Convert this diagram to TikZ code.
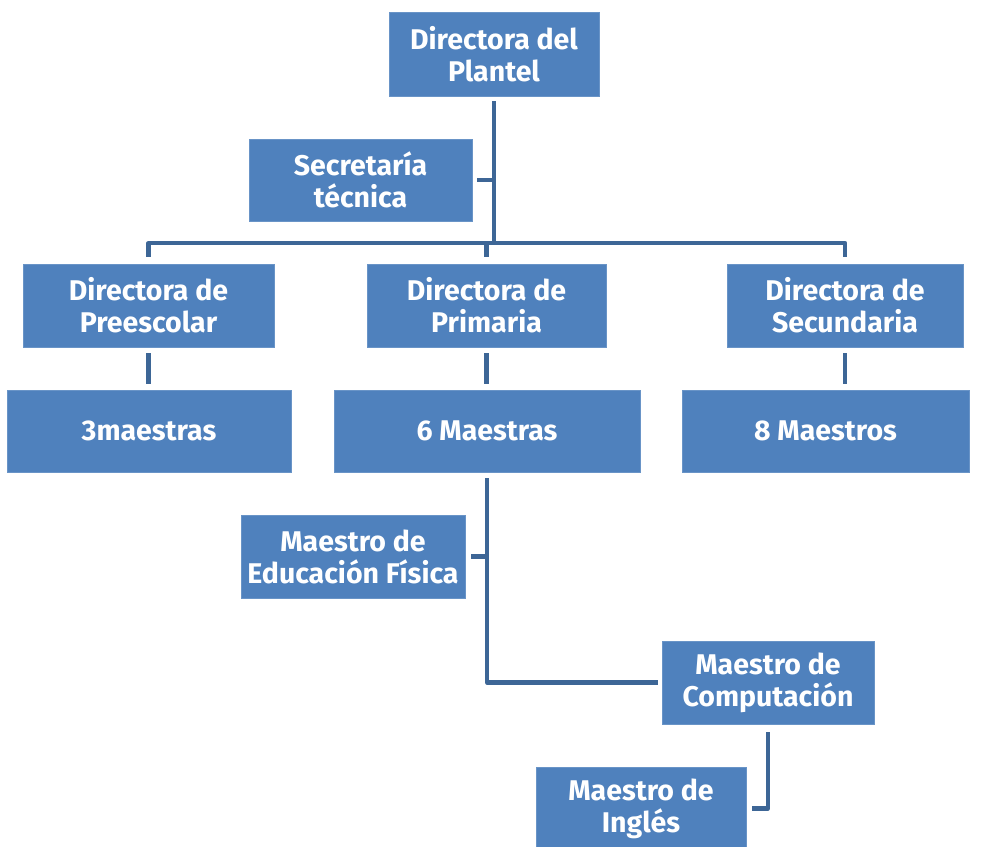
\documentclass[tikz,border=0pt]{standalone}
\usepackage{fontspec}
\setmainfont{Fira Sans}
\definecolor{boxblue}{HTML}{4F81BD}
\definecolor{lineblue}{HTML}{3D6696}
\begin{document}
\begin{tikzpicture}[x=1pt,y=-1pt,
  box/.style={fill=boxblue, draw=boxblue!85!white, line width=0.6pt, inner sep=0pt,
    text=white, align=center, font=\fontsize{28.5}{32}\selectfont\bfseries},
  conn/.style={draw=lineblue, line width=4.2pt, line join=round}]
\useasboundingbox (0,0) rectangle (993,846);
\node[box, minimum width=210, minimum height=84] (dir) at (494,54) {Directora del\\Plantel};
\node[box, minimum width=223, minimum height=82] (secr) at (360.5,180) {Secretaría\\técnica};
\node[box, minimum width=251, minimum height=83] (pre) at (148.5,305.5) {Directora de\\Preescolar};
\node[box, minimum width=239, minimum height=83] (prim) at (486.5,305.5) {Directora de\\Primaria};
\node[box, minimum width=236, minimum height=83] (secu) at (845,305.5) {Directora de\\Secundaria};
\node[box, minimum width=284, minimum height=82] (m3) at (149,431) {3maestras};
\node[box, minimum width=306, minimum height=82] (m6) at (487,431) {6 Maestras};
\node[box, minimum width=287, minimum height=82] (m8) at (825.5,431) {8 Maestros};
\node[box, minimum width=224, minimum height=83] (edf) at (353,556.5) {Maestro de\\Educación Física};
\node[box, minimum width=212, minimum height=83] (comp) at (768,682.5) {Maestro de\\Computación};
\node[box, minimum width=210, minimum height=83] (ing) at (641,808.5) {Maestro de\\Inglés};
\coordinate (bus) at (494,243);
\draw[conn, shorten <=5pt] (dir.south) -- (dir.south |- bus);
\draw[conn, shorten <=5pt] (secr.east) -- (secr.east -| bus);
\draw[conn, shorten <=7pt, shorten >=7pt] (pre.north) |- (bus) -| (secu.north);
\draw[conn, shorten >=7pt] (prim.north |- bus) -- (prim.north);
\draw[conn, shorten <=6pt, shorten >=6pt] (pre.south) -- (pre.south |- m3.north);
\draw[conn, shorten <=6pt, shorten >=6pt] (prim.south) -- (prim.south |- m6.north);
\draw[conn, shorten <=6pt, shorten >=6pt] (secu.south) -- (secu.south |- m8.north);
\draw[conn, shorten <=6pt, shorten >=4pt] (m6.south) |- (comp.west);
\draw[conn, shorten <=6pt] (edf.east) -- (edf.east -| m6.south);
\draw[conn, shorten <=8pt, shorten >=6pt] (comp.south) |- (ing.east);
\end{tikzpicture}
\end{document}
